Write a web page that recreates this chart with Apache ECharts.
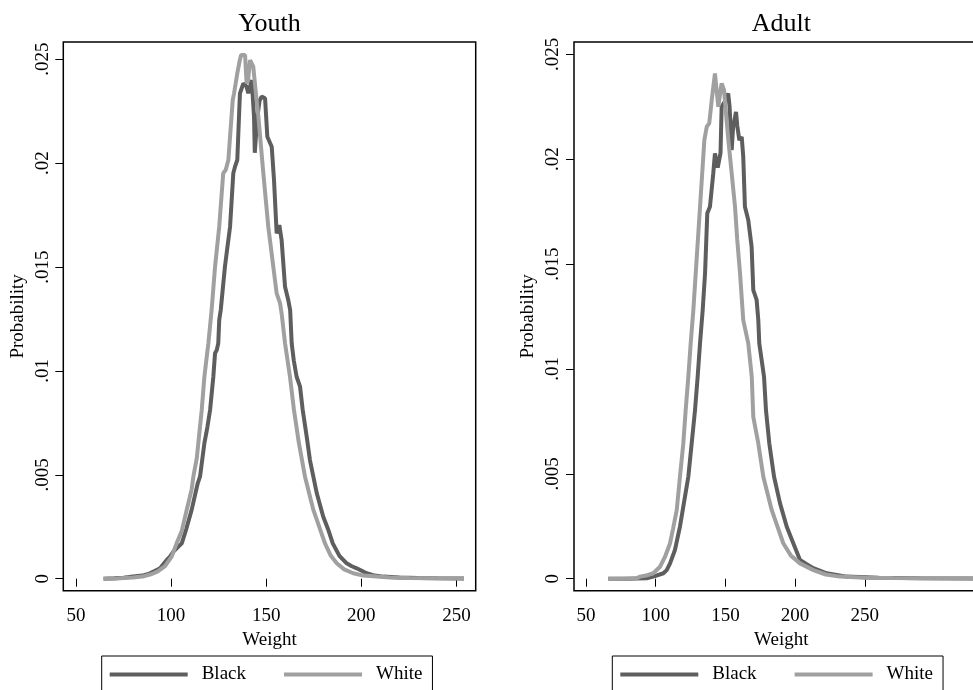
<!DOCTYPE html>
<html><head><meta charset="utf-8">
<script src="https://cdn.jsdelivr.net/npm/echarts@6/dist/echarts.min.js"></script>
<style>html,body{margin:0;padding:0;background:#fff}#c{width:973px;height:690px}</style>
</head><body><div id="c"></div>
<script>
const panelTitles = ['Youth', 'Adult'];
const seriesNames = ['Black', 'White'];
const xTicks = [50, 100, 150, 200, 250];
const yTicks = [0, 0.005, 0.01, 0.015, 0.02, 0.025];
const yTickLabels = ['0', '.005', '.01', '.015', '.02', '.025'];
const xAxisTitle = 'Weight';
const yAxisTitle = 'Probability';

// Youth, Black: [weight, probability]
const youthBlack = [[64.5,0],[70,0.00002],[75,0.00005],[80,0.0001],[85,0.00015],[88.9,0.00026],[92.4,0.00042],[94.2,0.0005],[97.7,0.0009],[99.4,0.00106],[101.2,0.0013],[105.6,0.0017],[108,0.0024],[110.8,0.00331],[114.0,0.00459],[114.6,0.00462],[115.2,0.00491],[117.5,0.00652],[118.5,0.0070],[119.1,0.00731],[120.5,0.00812],[122.2,0.00972],[123.1,0.01085],[124.0,0.0110],[124.8,0.01133],[125.3,0.01245],[126.1,0.01293],[128.3,0.01501],[129.2,0.01566],[131.0,0.01694],[132.7,0.01951],[133.6,0.01983],[134.8,0.02015],[135.9,0.02271],[136.2,0.02336],[138.0,0.02384],[139.7,0.02368],[140.6,0.02336],[142.4,0.024],[143.6,0.02223],[144.0,0.0205],[144.6,0.02047],[145.2,0.0221],[146.5,0.0230],[147.6,0.0232],[149.4,0.02312],[150.6,0.02127],[152.9,0.02079],[154.1,0.01919],[155.5,0.01662],[156.9,0.01702],[158.1,0.0163],[159.9,0.01405],[161.6,0.01341],[162.6,0.01293],[163.4,0.01133],[164.5,0.0105],[166.0,0.00972],[167.8,0.00924],[169.2,0.00812],[171.3,0.00683],[173.0,0.00571],[176.6,0.00411],[180.0,0.00298],[182.7,0.00234],[185.0,0.0017],[188.5,0.0011],[192.3,0.00074],[195,0.0006],[197.6,0.0005],[202.8,0.00026],[207,0.00015],[211.6,0.0001],[220,0.00006],[230,0.00003],[240,0.00002],[254,0.00001]];

// Youth, White
const youthWhite = [[64.4,0],[70,0],[75,0.00003],[80,0.00006],[85,0.0001],[88.9,0.0002],[90.6,0.00026],[93,0.00035],[96.8,0.0006],[100.3,0.00106],[102.9,0.0017],[105.6,0.0023],[108.2,0.00331],[110.8,0.0043],[111.7,0.00491],[113.5,0.0058],[114.3,0.00652],[116.1,0.00812],[117.5,0.00972],[118.5,0.0105],[119.6,0.01133],[121.3,0.01293],[123.1,0.01501],[125.3,0.01694],[127.4,0.01951],[128.7,0.01967],[130.1,0.02015],[132.4,0.02303],[133.1,0.02336],[134.8,0.02432],[136.0,0.0249],[136.8,0.0252],[138.9,0.0252],[139.7,0.02384],[140.5,0.0240],[141.5,0.02496],[143.2,0.02464],[145.3,0.02271],[145.9,0.02223],[148.5,0.01951],[151.1,0.01694],[155.5,0.01373],[157.3,0.01325],[158.2,0.0127],[159.9,0.01133],[162.5,0.00972],[164.6,0.00812],[167.2,0.00652],[170.4,0.00491],[174.8,0.00331],[180.9,0.0017],[184,0.0011],[187.1,0.00074],[191,0.00045],[195.8,0.00026],[201,0.00015],[208.1,0.0001],[215,0.00006],[225,0.00003],[240,0.00002],[254,0.00001]];

// Adult, Black
const adultBlack = [[66,0],[80,0],[93.5,0.00002],[98.3,0.0001],[105.5,0.00026],[107.9,0.00041],[110.3,0.00073],[113.8,0.00137],[117.4,0.00248],[119.4,0.00328],[123.4,0.00486],[125.8,0.00645],[128.2,0.00804],[130.1,0.00963],[131.8,0.01122],[133.7,0.01281],[135.4,0.01456],[137.0,0.01742],[138.9,0.01773],[141.3,0.01933],[142.5,0.02028],[144.5,0.0196],[146.5,0.0203],[147.3,0.0225],[150,0.0228],[152.0,0.02314],[153,0.0225],[154.5,0.02044],[155.5,0.0215],[157.6,0.02226],[158.5,0.0216],[160.0,0.02091],[161.7,0.02107],[162.8,0.02012],[164.0,0.01773],[166.4,0.0171],[168.8,0.01583],[170.0,0.01376],[172.4,0.01329],[173.6,0.01233],[174.3,0.01122],[177.7,0.00963],[179.1,0.00804],[181.5,0.00645],[184.9,0.00486],[189.2,0.00359],[194.0,0.00248],[198.7,0.00169],[203.5,0.00089],[208,0.0007],[213.1,0.0005],[222.7,0.00026],[237.0,0.0001],[260,0.00004],[290,0.00002],[335,0.00001]];

// Adult, White
const adultWhite = [[66,0],[75,0],[86.4,0.00002],[88.7,0.0001],[93,0.00015],[98.3,0.00026],[103.1,0.00057],[106.7,0.00105],[110.3,0.00169],[112.5,0.0024],[115.1,0.00328],[117.4,0.00486],[119.8,0.00645],[121.5,0.00804],[123.4,0.00963],[125.1,0.01122],[127.0,0.01281],[128.7,0.01456],[131.8,0.01773],[134.9,0.02091],[136.6,0.02155],[138.4,0.02171],[140.2,0.02282],[142.5,0.02409],[143.8,0.02409],[144.9,0.0225],[147.3,0.02362],[149.0,0.0233],[152.1,0.02091],[154.5,0.01933],[156.9,0.01773],[158.5,0.01615],[160.5,0.01456],[162.8,0.01233],[166.4,0.01122],[168.9,0.00963],[170.0,0.00772],[173.6,0.00645],[177.2,0.00486],[183.2,0.00328],[191.5,0.00169],[197,0.0011],[203.5,0.00073],[213.1,0.00041],[222,0.0002],[232.2,0.0001],[250,0.00005],[270,0.00003],[300,0.00002],[335,0.00001]];

const FONT = 'Liberation Serif';
const DARK = '#5e5e5e', LIGHT = '#a0a0a0';

const panels = [
  { grid: {left: 63.3, top: 42, width: 412.4, height: 548.7}, xMin: 43.32, xMax: 260.15, yMin: -0.000578, yMax: 0.02583, titleX: 269.5, legendX: 101.7, data: [youthBlack, youthWhite] },
  { grid: {left: 574, top: 42, width: 414.6, height: 548.7}, xMin: 41.39, xMax: 338.8, yMin: -0.000572, yMax: 0.02559, titleX: 781.3, legendX: 612.3, data: [adultBlack, adultWhite] }
];

const textBase = {fontFamily: FONT, fontSize: 19, color: '#000'};
function yLabel(v) {
  let best = 0;
  for (let i = 0; i < yTicks.length; i++) if (Math.abs(yTicks[i] - v) < Math.abs(yTicks[best] - v)) best = i;
  return yTickLabels[best];
}

const option = {
  animation: false,
  backgroundColor: '#fff',
  title: panels.map((p, i) => ({
    text: panelTitles[i], left: p.titleX, top: 11, textAlign: 'center', padding: 0,
    textStyle: {fontFamily: FONT, fontSize: 26, fontWeight: 'normal', color: '#000'}
  })),
  legend: panels.map(p => ({
    data: seriesNames, left: p.legendX, top: 656, orient: 'horizontal',
    icon: 'rect', itemWidth: 78, itemHeight: 4, itemGap: 38,
    padding: [9, 10, 9, 8], borderColor: '#000', borderWidth: 1, borderRadius: 0,
    selectedMode: false,
    textStyle: Object.assign({padding: [0, 0, 0, 9]}, textBase)
  })),
  grid: panels.map(p => Object.assign({show: true, borderColor: '#000', borderWidth: 1.5, backgroundColor: 'transparent', containLabel: false, outerBoundsMode: 'none'}, p.grid)),
  xAxis: panels.map((p, i) => ({
    type: 'value', gridIndex: i, min: p.xMin, max: p.xMax,
    name: xAxisTitle, nameLocation: 'middle', nameGap: 34, nameTextStyle: textBase,
    axisLine: {show: false},
    axisTick: {show: true, inside: false, length: 8, customValues: xTicks, lineStyle: {color: '#000', width: 1}},
    axisLabel: Object.assign({customValues: xTicks, margin: 16}, textBase),
    splitLine: {show: false}
  })),
  yAxis: panels.map((p, i) => ({
    type: 'value', gridIndex: i, min: p.yMin, max: p.yMax,
    name: yAxisTitle, nameLocation: 'middle', nameGap: 36, nameRotate: 90, nameTextStyle: textBase,
    axisLine: {show: false},
    axisTick: {show: true, inside: false, length: 8, customValues: yTicks, lineStyle: {color: '#000', width: 1}},
    axisLabel: Object.assign({customValues: yTicks, margin: 11, rotate: 90, formatter: yLabel}, textBase),
    splitLine: {show: false}
  })),
  series: []
};
panels.forEach((p, i) => {
  seriesNames.forEach((n, j) => {
    option.series.push({
      type: 'line', name: n, xAxisIndex: i, yAxisIndex: i, data: p.data[j],
      showSymbol: false, symbol: 'none', smooth: false,
      lineStyle: {color: j === 0 ? DARK : LIGHT, width: 4},
      itemStyle: {color: j === 0 ? DARK : LIGHT},
      clip: true
    });
  });
});
const chart = echarts.init(document.getElementById('c'), null, {renderer: 'canvas'});
chart.setOption(option);
</script></body></html>
